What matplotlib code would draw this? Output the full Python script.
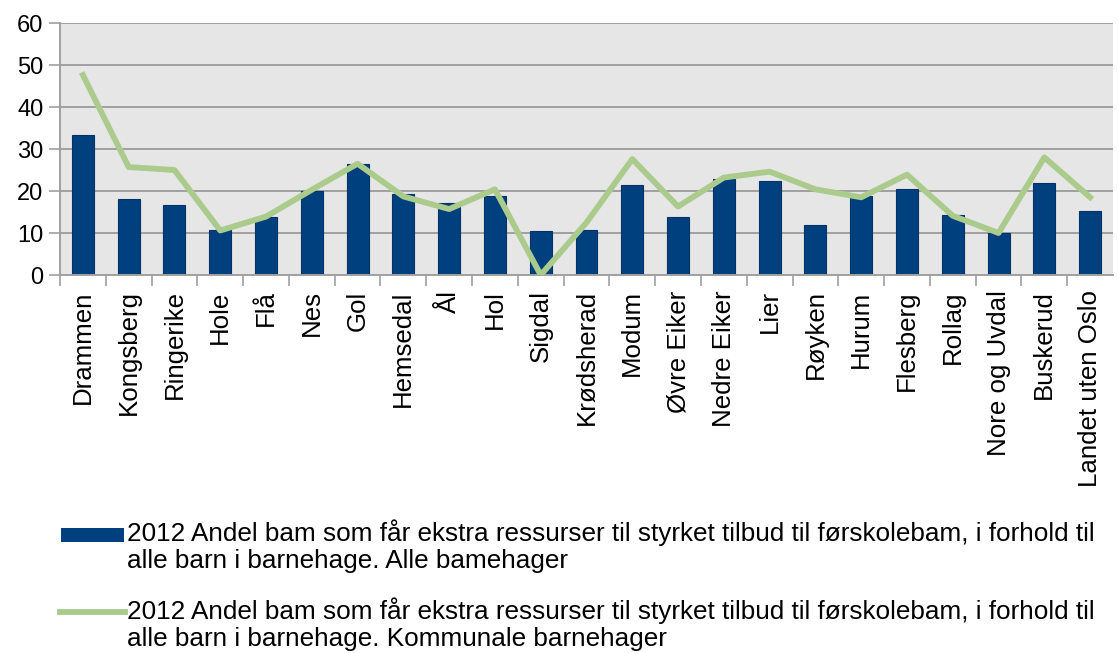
import matplotlib.pyplot as plt
from matplotlib.patches import Rectangle
from matplotlib.lines import Line2D
import numpy as np

plt.rcParams['font.family'] = ['Liberation Sans', 'DejaVu Sans']

## Données
kommuner = ['Drammen', 'Kongsberg', 'Ringerike', 'Hole', 'Flå', 'Nes', 'Gol',
            'Hemsedal', 'Ål', 'Hol', 'Sigdal', 'Krødsherad', 'Modum',
            'Øvre Eiker', 'Nedre Eiker', 'Lier', 'Røyken', 'Hurum', 'Flesberg',
            'Rollag', 'Nore og Uvdal', 'Buskerud', 'Landet uten Oslo']

alle = [33.4, 18.1, 16.7, 10.8, 13.8, 20.1, 26.4, 19.3, 17.1, 18.9, 10.4,
        10.8, 21.5, 13.7, 22.9, 22.3, 11.8, 18.9, 20.4, 14.4, 10.1, 21.9, 15.2]

kommunale = [47.6, 25.7, 25.0, 10.6, 13.9, 20.3, 26.5, 18.7, 15.7, 20.4, 0.0,
             12.5, 27.6, 16.3, 23.2, 24.6, 20.4, 18.5, 23.9, 14.1, 10.0, 28.0, 18.5]

label_alle = ('2012 Andel bam som får ekstra ressurser til styrket tilbud til førskolebam, i forhold til\n'
              'alle barn i barnehage. Alle bamehager')
label_komm = ('2012 Andel bam som får ekstra ressurser til styrket tilbud til førskolebam, i forhold til\n'
              'alle barn i barnehage. Kommunale barnehager')

bleu = '#00407f'
vert = '#abcb8c'

## Figure
W, H = 1118, 653
fig = plt.figure(figsize=(W/100, H/100), dpi=100)
ax = fig.add_axes([60/W, 1 - 275/H, (1113-60)/W, (275-23)/H])
ax.set_facecolor('#e6e6e6')

x = np.arange(len(kommuner))
ax.bar(x, alle, width=0.48, color=bleu, edgecolor='#003366', linewidth=0.8, zorder=2)
ax.plot(x, kommunale, color=vert, linewidth=4.2, zorder=3)

ax.set_xlim(-0.5, len(kommuner) - 0.5)
ax.set_ylim(0, 60)
ax.set_yticks(range(0, 61, 10))
ax.yaxis.grid(True, color='#a0a0a0', linewidth=1.4, zorder=1)
ax.set_axisbelow(True)

# graduations entre les catégories
ax.set_xticks(x - 0.5, minor=False)
ax.set_xticklabels([])
ax.set_xticks(x, minor=True)
ax.set_xticklabels(kommuner, minor=True, rotation=90, fontsize=18.6, va='top')
ax.tick_params(axis='x', which='major', length=8, color='#a0a0a0', width=1.2)
ax.tick_params(axis='x', which='minor', length=0, pad=11)
ax.tick_params(axis='y', length=8, color='#a0a0a0', width=1.2, labelsize=17, pad=4)

for s in ['top', 'right']:
    ax.spines[s].set_visible(False)
for s in ['left', 'bottom']:
    ax.spines[s].set_color('#a0a0a0')
    ax.spines[s].set_linewidth(1.4)

## Légende (faite à la main pour aligner les symboles sur la 1re ligne)
fig.patches.append(Rectangle((61/W, 1 - 542/H), 63/W, 14/H, transform=fig.transFigure,
                             facecolor=bleu, edgecolor='none'))
fig.text(127/W, 1 - 519/H, label_alle, fontsize=18.8, va='top', ha='left', linespacing=1.2)

fig.lines.append(Line2D([60/W, 125/W], [1 - 612/H, 1 - 612/H], transform=fig.transFigure,
                        color=vert, linewidth=4.2))
fig.text(127/W, 1 - 597/H, label_komm, fontsize=18.8, va='top', ha='left', linespacing=1.2)

fig.savefig('out.png', dpi=100)
